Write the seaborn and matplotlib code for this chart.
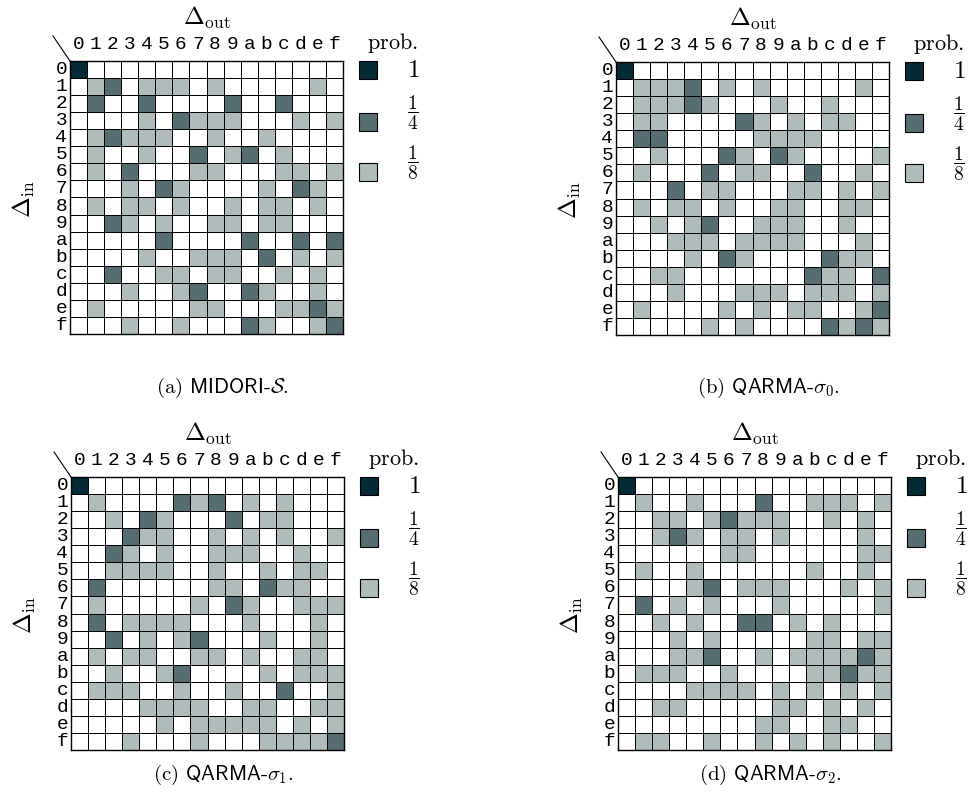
import numpy as np
import matplotlib.pyplot as plt
import seaborn as sns
from matplotlib.colors import ListedColormap
from matplotlib.lines import Line2D
from matplotlib.patches import Rectangle

# cell codes: 0 = empty, 1 = prob 1/8, 2 = prob 1/4, 3 = prob 1
midori_s = [
    "3000000000000000", "0120111010000010", "0200200002002000", "0000102111000101",
    "0121110010010000", "0100100201201000", "0102000110001101", "0001021000010210",
    "0101101001011010", "0021010011011000", "0000020000200202", "0000100111020101",
    "0020011011001010", "0001001200210010", "0100000110001121", "0001001000210012",
]
qarma_s0 = [
    "3000000000000000", "0111201010000010", "0111210001001000", "0110000210101100",
    "0220000011110000", "0010002102100001", "0100020110020010", "0002011000110101",
    "0101101001100110", "0010120011100100", "0001110111100010", "0000102100002110",
    "0011000000021102", "0001000111011101", "0100001010110012", "0000010100002121",
]
qarma_s1 = [
    "3000000000000000", "0100002120101000", "0010210002011000", "0002110010101001",
    "0021010011100100", "0011110010010110", "0200000011021100", "0100000102100111",
    "0201111000100010", "0020101200010010", "0101100110100110", "0010012000010111",
    "0111001001002001", "0000111100110011", "0000010111110101", "0001000100011112",
]
qarma_s2 = [
    "3000000000000000", "0100100020011101", "0011012111001010", "0012101101000010",
    "0000001100000011", "0100100000010010", "0000120111000101", "0201010001000001",
    "0010100220101000", "0001010000011011", "0001120010111121", "0111001000011211",
    "0000111101010101", "0011000001101010", "0000000011001100", "0110010010101001",
]
tables = [midori_s, qarma_s0, qarma_s1, qarma_s2]
captions = [r"(a) $\mathsf{MIDORI}$-$\mathcal{S}$.", r"(b) $\mathsf{QARMA}$-$\sigma_0$.",
            r"(c) $\mathsf{QARMA}$-$\sigma_1$.", r"(d) $\mathsf{QARMA}$-$\sigma_2$."]
hex_labels = list("0123456789abcdef")
legend_labels = [r"$1$", r"$\dfrac{1}{4}$", r"$\dfrac{1}{8}$"]

colors = ["#ffffff", "#b0bcbb", "#566d72", "#032a35"]
cmap = ListedColormap(colors)

plt.rcParams['mathtext.fontset'] = 'cm'

W, H = 973, 807
fig = plt.figure(figsize=(W / 100, H / 100), dpi=100)


def fx(x):
    return x / W


def fy(y):
    return 1 - y / H


# top-left corner of each grid in pixels, and caption y
origins = [(70, 61), (616, 62), (71, 477), (618, 477)]
caption_y = [388, 388, 775, 775]
size = 273

for tab, cap, (left, top), cy in zip(tables, captions, origins, caption_y):
    codes = np.array([[int(c) for c in row] for row in tab])
    ax = fig.add_axes([fx(left), fy(top + size), size / W, size / H])
    sns.heatmap(codes, cmap=cmap, vmin=-0.5, vmax=3.5, cbar=False,
                linewidths=0.6, linecolor="black",
                xticklabels=hex_labels, yticklabels=hex_labels, ax=ax)
    ax.xaxis.tick_top()
    ax.tick_params(axis="x", length=0, pad=6)
    ax.tick_params(axis="y", length=0, pad=2)
    for lab in ax.get_xticklabels():
        lab.set_fontfamily("Liberation Mono")
        lab.set_fontsize(14)
        lab.set_rotation(0)
    for lab in ax.get_yticklabels():
        lab.set_fontfamily("Liberation Mono")
        lab.set_fontsize(14)
        lab.set_rotation(0)
    for s in ax.spines.values():
        s.set_visible(True)
        s.set_linewidth(1)

    fig.text(fx(left + 137), fy(top - 43), r"$\Delta_{\rm out}$", fontsize=18,
             ha="center", va="center")
    fig.text(fx(left - 46), fy(top + 138), r"$\Delta_{\rm in}$", fontsize=18,
             ha="center", va="center", rotation=90)
    fig.add_artist(Line2D([fx(left - 17), fx(left)], [fy(top - 25), fy(top)],
                          color="black", lw=0.8))

    # legend
    fig.text(fx(left + 322), fy(top - 18), r"$\mathrm{prob.}$", fontsize=16,
             ha="center", va="center")
    for col, lab, dy, ly in zip(colors[::-1][:3], legend_labels,
                                [9, 61, 111], [9, 52, 102]):
        fig.add_artist(Rectangle((fx(left + 289), fy(top + dy + 9)), 18 / W, 18 / H,
                                 facecolor=col, edgecolor="black", lw=0.8))
        fig.text(fx(left + 343), fy(top + ly), lab, fontsize=18 if lab == "$1$" else 14,
                 ha="center", va="center")

    fig.text(fx(left + 152), fy(cy), cap, fontsize=15, fontfamily="cmr10",
             ha="center", va="center")

fig.savefig("out.png", dpi=100)
